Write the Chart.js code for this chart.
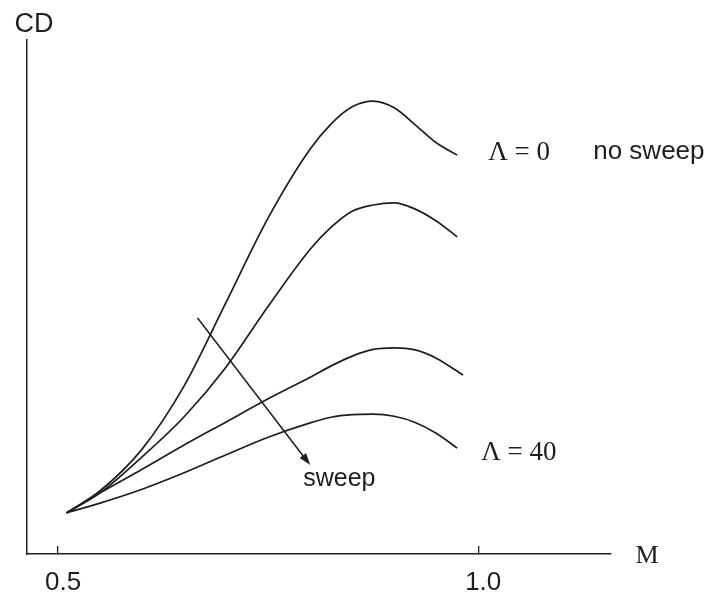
<!DOCTYPE html>
<html>
<head>
<meta charset="utf-8">
<title>CD vs M</title>
<script src="https://cdn.jsdelivr.net/npm/chart.js@4"></script>
<style>
  html, body { margin: 0; padding: 0; background: #fff; }
  canvas { display: block; }
</style>
</head>
<body>
<canvas id="dragChart" width="716" height="598"></canvas>
<script>
// Mach numbers where the drag curves are sampled
const mach = [0.51, 0.55, 0.60, 0.65, 0.70, 0.75, 0.80, 0.825, 0.85, 0.875, 0.90, 0.925, 0.95];
// last Mach number of each curve
const machEnd = [0.975, 0.975, 0.982, 0.975];

// drag coefficient (arbitrary units), from no sweep down to the most swept wing
const cdNoSweep = [0.080, 0.123, 0.204, 0.327, 0.490, 0.654, 0.788, 0.837, 0.870, 0.881, 0.868, 0.835, 0.800, 0.776];
const cdSweepA  = [0.080, 0.119, 0.189, 0.267, 0.364, 0.482, 0.593, 0.636, 0.667, 0.679, 0.683, 0.671, 0.648, 0.617];
const cdSweepB  = [0.080, 0.119, 0.165, 0.212, 0.257, 0.302, 0.344, 0.366, 0.385, 0.398, 0.401, 0.397, 0.381, 0.348];
const cdSweep40 = [0.080, 0.099, 0.126, 0.158, 0.193, 0.227, 0.255, 0.266, 0.271, 0.272, 0.268, 0.256, 0.235, 0.206];

const machTicks = [0.5, 1.0];
const machTickLabels = ['0.5', '1.0'];

// arrow showing the direction of increasing sweep [M, CD]
const sweepArrowFrom = [0.666, 0.459];
const sweepArrowTo = [0.800, 0.173];

const ink = '#1e1e1e';

function toPoints(values, i) {
    const xs = mach.concat([machEnd[i]]);
    return values.map((v, k) => ({ x: xs[k], y: v }));
}

const curves = [cdNoSweep, cdSweepA, cdSweepB, cdSweep40];

// text labels and the sweep arrow
const annotations = {
    id: 'annotations',
    afterDraw(chart) {
        const ctx = chart.ctx;
        const xs = chart.scales.x;
        const ys = chart.scales.y;
        const area = chart.chartArea;

        ctx.save();
        ctx.fillStyle = ink;
        ctx.strokeStyle = ink;
        ctx.textBaseline = 'middle';

        // axis titles
        ctx.font = '27px "Liberation Sans"';
        ctx.textAlign = 'center';
        ctx.fillText('CD', area.left + 7, area.top - 15);
        ctx.font = '26px "Liberation Serif"';
        ctx.fillText('M', area.right + 36, area.bottom + 2);

        // curve labels next to the curve ends
        const first = chart.getDatasetMeta(0).data;
        const last = chart.getDatasetMeta(3).data;
        const end0 = first[first.length - 1];
        const end40 = last[last.length - 1];
        ctx.textAlign = 'left';
        ctx.font = '27px "Liberation Serif"';
        ctx.fillText('\u039B = 0', end0.x + 31, end0.y - 2);
        ctx.fillText('\u039B = 40', end40.x + 24, end40.y + 5);
        ctx.font = '26px "Liberation Sans"';
        ctx.fillText('no sweep', end0.x + 136, end0.y - 3);

        // sweep arrow
        const x1 = xs.getPixelForValue(sweepArrowFrom[0]);
        const y1 = ys.getPixelForValue(sweepArrowFrom[1]);
        const x2 = xs.getPixelForValue(sweepArrowTo[0]);
        const y2 = ys.getPixelForValue(sweepArrowTo[1]);
        const ang = Math.atan2(y2 - y1, x2 - x1);
        ctx.lineWidth = 1.5;
        ctx.beginPath();
        ctx.moveTo(x1, y1);
        ctx.lineTo(x2 - 8 * Math.cos(ang), y2 - 8 * Math.sin(ang));
        ctx.stroke();
        ctx.beginPath();
        ctx.moveTo(x2, y2);
        ctx.lineTo(x2 - 12 * Math.cos(ang) + 4 * Math.sin(ang), y2 - 12 * Math.sin(ang) - 4 * Math.cos(ang));
        ctx.lineTo(x2 - 12 * Math.cos(ang) - 4 * Math.sin(ang), y2 - 12 * Math.sin(ang) + 4 * Math.cos(ang));
        ctx.closePath();
        ctx.fill();

        ctx.font = '25px "Liberation Sans"';
        ctx.fillText('sweep', x2 - 7, y2 + 14);
        ctx.restore();
    }
};

new Chart(document.getElementById('dragChart'), {
    type: 'line',
    data: {
        datasets: curves.map((values, i) => ({
            data: toPoints(values, i),
            borderColor: ink,
            borderWidth: 1.7,
            pointRadius: 0,
            cubicInterpolationMode: 'monotone',
            fill: false
        }))
    },
    options: {
        responsive: false,
        animation: false,
        layout: { padding: { top: 40, right: 105, left: 0, bottom: 0 } },
        plugins: { legend: { display: false }, tooltip: { enabled: false } },
        scales: {
            x: {
                type: 'linear',
                min: 0.463,
                max: 1.158,
                afterBuildTicks: scale => {
                    scale.ticks = machTicks.map(v => ({ value: v }));
                },
                afterFit: scale => { scale.height = 44; },
                grid: {
                    display: true,
                    drawOnChartArea: false,
                    drawTicks: true,
                    tickLength: -8,
                    color: ink,
                    lineWidth: 1.3
                },
                border: { display: true, color: ink, width: 1.5 },
                ticks: {
                    color: ink,
                    font: { family: 'Liberation Sans', size: 26 },
                    padding: 21,
                    labelOffset: 5,
                    maxRotation: 0,
                    callback: (value, index) => machTickLabels[index]
                }
            },
            y: {
                type: 'linear',
                min: 0,
                max: 1,
                afterFit: scale => { scale.width = 27; },
                grid: { display: false },
                border: { display: true, color: ink, width: 1.5 },
                ticks: { display: false }
            }
        }
    },
    plugins: [annotations]
});
</script>
</body>
</html>
